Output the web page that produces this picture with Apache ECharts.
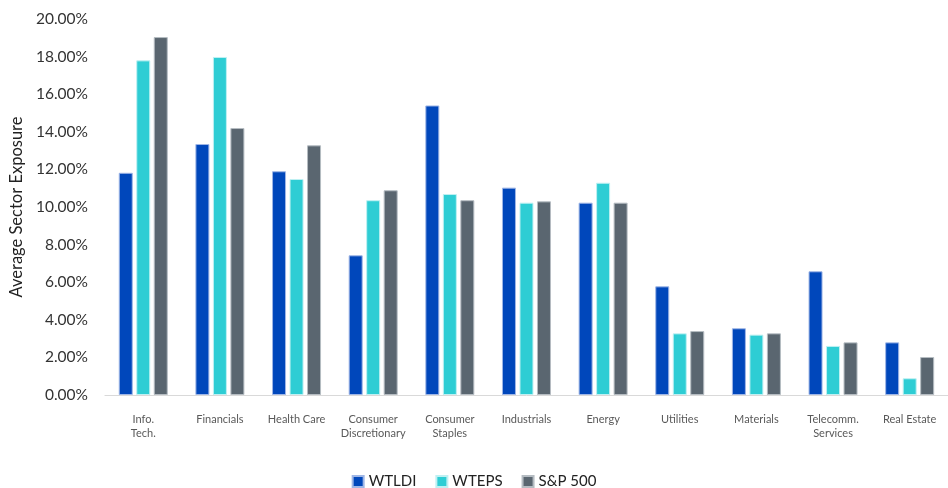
<!DOCTYPE html>
<html>
<head>
<meta charset="utf-8">
<script src="https://cdn.jsdelivr.net/npm/echarts@6/dist/echarts.min.js"></script>
<style>
html,body{margin:0;padding:0;background:#fff;}
#chart{width:948px;height:488px;}
</style>
</head>
<body>
<div id="chart"></div>
<script>
var categories = ["Info.\nTech.", "Financials", "Health Care", "Consumer\nDiscretionary", "Consumer\nStaples", "Industrials", "Energy", "Utilities", "Materials", "Telecomm.\nServices", "Real Estate"];
var seriesNames = ["WTLDI", "WTEPS", "S&P 500"];
var wtldi = [11.82, 13.35, 11.90, 7.43, 15.40, 11.03, 10.23, 5.78, 3.55, 6.58, 2.80];
var wteps = [17.80, 17.98, 11.49, 10.36, 10.69, 10.23, 11.29, 3.28, 3.21, 2.61, 0.89];
var sp500 = [19.04, 14.20, 13.28, 10.89, 10.36, 10.30, 10.23, 3.40, 3.28, 2.80, 2.02];
var yTicks = [0, 2, 4, 6, 8, 10, 12, 14, 16, 18, 20];

var colors = ["#0047BB", "#2ECDD4", "#5A6670"];
var borders = ["#9fb6e6", "#bff0f2", "#b5bcc2"];
var data = [wtldi, wteps, sp500];
var font = "Lato, 'Open Sans', sans-serif";

var chart = echarts.init(document.getElementById('chart'), null, {renderer: 'canvas'});
chart.setOption({
  animation: false,
  backgroundColor: '#ffffff',
  legend: {
    top: 469,
    left: 'center',
    itemWidth: 11,
    itemHeight: 11,
    itemGap: 19,
    icon: 'rect',
    textStyle: {fontFamily: font, fontSize: 15, color: '#222'},
    data: seriesNames
  },
  grid: {left: 102, top: 19, width: 853, height: 376, containLabel: false},
  xAxis: {
    type: 'category',
    data: categories,
    axisLine: {lineStyle: {color: '#d9d9d9', width: 1}},
    axisTick: {show: false},
    axisLabel: {fontFamily: font, fontSize: 11, color: '#595959', margin: 17, lineHeight: 14, interval: 0}
  },
  yAxis: {
    type: 'value',
    min: yTicks[0],
    max: yTicks[yTicks.length - 1],
    interval: 2,
    name: 'Average Sector Exposure',
    nameLocation: 'middle',
    nameGap: 78,
    nameRotate: 90,
    nameTextStyle: {fontFamily: font, fontSize: 16.5, color: '#222'},
    splitLine: {show: false},
    axisLine: {show: false},
    axisTick: {show: false},
    axisLabel: {fontFamily: font, fontSize: 15.5, color: '#333', margin: 17,
      formatter: function(v){ return v.toFixed(2) + '%'; }}
  },
  series: seriesNames.map(function(n, i){
    return {
      name: n,
      type: 'bar',
      data: data[i],
      barWidth: 14,
      barGap: '25%',
      itemStyle: {color: colors[i], borderColor: borders[i], borderWidth: 1}
    };
  })
});
</script>
</body>
</html>
